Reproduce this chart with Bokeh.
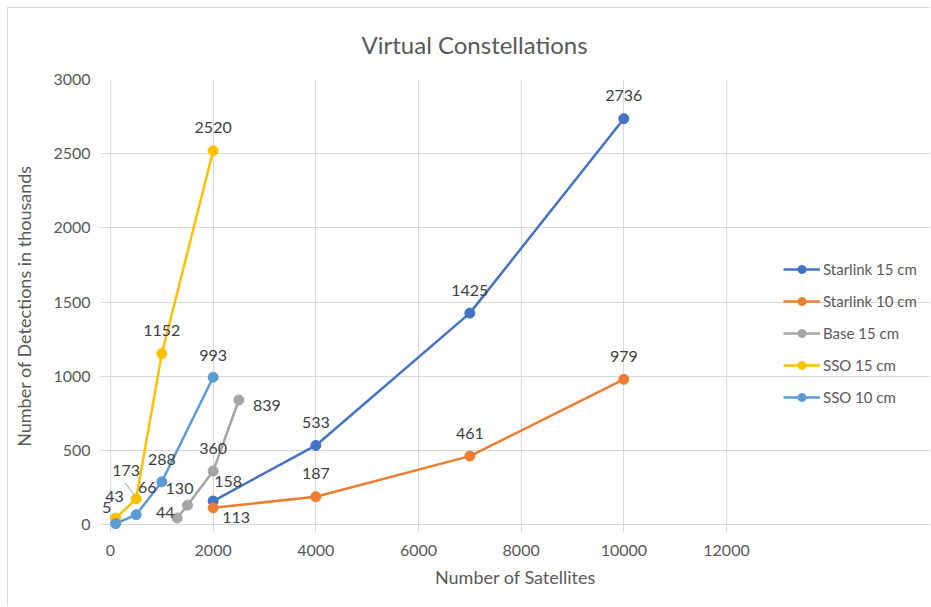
from bokeh.plotting import figure
from bokeh.models import ColumnDataSource, LabelSet, Legend, LegendItem, Range1d, FixedTicker
from bokeh.core.properties import value
from bokeh.embed import file_html
from bokeh.resources import INLINE

# ---- data ----
starlink_x = [2000, 4000, 7000, 10000]
starlink15_y = [158, 533, 1425, 2736]
starlink10_y = [113, 187, 461, 979]
base_x = [1300, 1500, 2000, 2500]
base15_y = [44, 130, 360, 839]
sso_x = [100, 500, 1000, 2000]
sso15_y = [43, 173, 1152, 2520]
sso10_y = [5, 66, 288, 993]

series_names = ["Starlink 15 cm", "Starlink 10 cm", "Base 15 cm", "SSO 15 cm", "SSO 10 cm"]
series_x = [starlink_x, starlink_x, base_x, sso_x, sso_x]
series_y = [starlink15_y, starlink10_y, base15_y, sso15_y, sso10_y]
x_ticks = list(range(0, 12001, 2000))
y_ticks = list(range(0, 3001, 500))
X_MAX, Y_MAX = 12000, 3000

# ---- styles ----
colors = ["#4472C4", "#ED7D31", "#A5A5A5", "#FFC000", "#5B9BD5"]
# label offsets (dx, dy) in screen pixels, dy positive = up
label_offsets = [
    [(15, 20), (0, 23), (0, 23), (0, 23)],
    [(23, -10), (0, 23), (0, 23), (0, 23)],
    [(-12, 5), (-8, 17), (0, 23), (28, -5)],
    [(-1, 22), (-10, 28), (0, 23), (0, 23)],
    [(-9, 16), (11, 27), (0, 22), (0, 22)],
]

FONT = "Lato"
TXT = "#595959"
PAD_L, PAD_B, PAD_R = 10, 8, 204   # extra frame room (px) outside the plotted area
PX_X = 616 / X_MAX                 # pixels per x unit
PX_Y = 445 / Y_MAX                 # pixels per y unit

p = figure(width=923, height=599, output_backend="svg", toolbar_location=None,
           x_range=Range1d(-PAD_L / PX_X, X_MAX + PAD_R / PX_X),
           y_range=Range1d(-PAD_B / PX_Y, Y_MAX),
           min_border_left=92, min_border_right=1, min_border_top=71, min_border_bottom=75)
p.styles = {"border-left": "1px solid #d9d9d9", "border-top": "1px solid #d9d9d9",
            "margin-left": "7px", "margin-top": "7px"}

p.title.text = "Virtual Constellations"
p.title.align = "left"
p.title.offset = 261
p.title.text_font = FONT
p.title.text_font_size = "24px"
p.title.text_font_style = "normal"
p.title.text_color = TXT
p.title.vertical_align = "top"
p.title.standoff = 38

p.outline_line_color = None
p.xaxis.ticker = FixedTicker(ticks=x_ticks)
p.yaxis.ticker = FixedTicker(ticks=y_ticks)
for ax in (p.xaxis[0], p.yaxis[0]):
    ax.axis_line_color = None
    ax.major_tick_line_color = None
    ax.minor_tick_line_color = None
    ax.major_label_text_font = FONT
    ax.major_label_text_font_size = "16px"
    ax.major_label_text_color = TXT
    ax.axis_label_text_font = FONT
    ax.axis_label_text_font_size = "18px"
    ax.axis_label_text_font_style = "normal"
    ax.axis_label_text_color = TXT
p.xaxis.axis_label = "Number of Satellites"
p.yaxis.axis_label = "Number of Detections in thousands"
p.yaxis.major_label_standoff = 4
p.xaxis.major_label_standoff = 6
p.xaxis.axis_label_standoff = 7
p.yaxis.axis_label_standoff = 15
p.grid.grid_line_color = "#D9D9D9"
p.grid.grid_line_width = 1
p.xgrid.bounds = (0, Y_MAX)
p.ygrid.bounds = (0, X_MAX)

items = []
for name, xs, ys, c, offs in zip(series_names, series_x, series_y, colors, label_offsets):
    src = ColumnDataSource(dict(x=xs, y=ys, t=[str(v) for v in ys],
                                dx=[o[0] for o in offs], dy=[o[1] for o in offs]))
    r1 = p.line("x", "y", source=src, line_color=c, line_width=2.5)
    r2 = p.scatter("x", "y", source=src, size=10, fill_color=c, line_color=c)
    items.append(LegendItem(label=name, renderers=[r1, r2]))
    p.add_layout(LabelSet(x="x", y="y", text="t", source=src, x_offset="dx", y_offset="dy",
                          text_align="center", text_baseline="middle",
                          text_font=value(FONT), text_font_size=value("16px"),
                          text_color="#404040"))

# leader line for the "173" label (from near the label to the point)
p.segment(x0=[sso_x[1] - 11 / PX_X], y0=[sso15_y[1] + 16 / PX_Y],
          x1=[sso_x[1] - 1 / PX_X], y1=[sso15_y[1] + 2 / PX_Y],
          line_color="#A6A6A6", line_width=1)

legend = Legend(items=items, location=(683, 125), spacing=12, glyph_width=37, glyph_height=20,
                label_height=20, label_text_font=FONT, label_text_font_size="15px",
                label_text_color=TXT, border_line_color=None, background_fill_alpha=0,
                label_standoff=3, padding=0, margin=0)
p.add_layout(legend, "center")

open("out.html", "w").write(file_html(p, INLINE))
